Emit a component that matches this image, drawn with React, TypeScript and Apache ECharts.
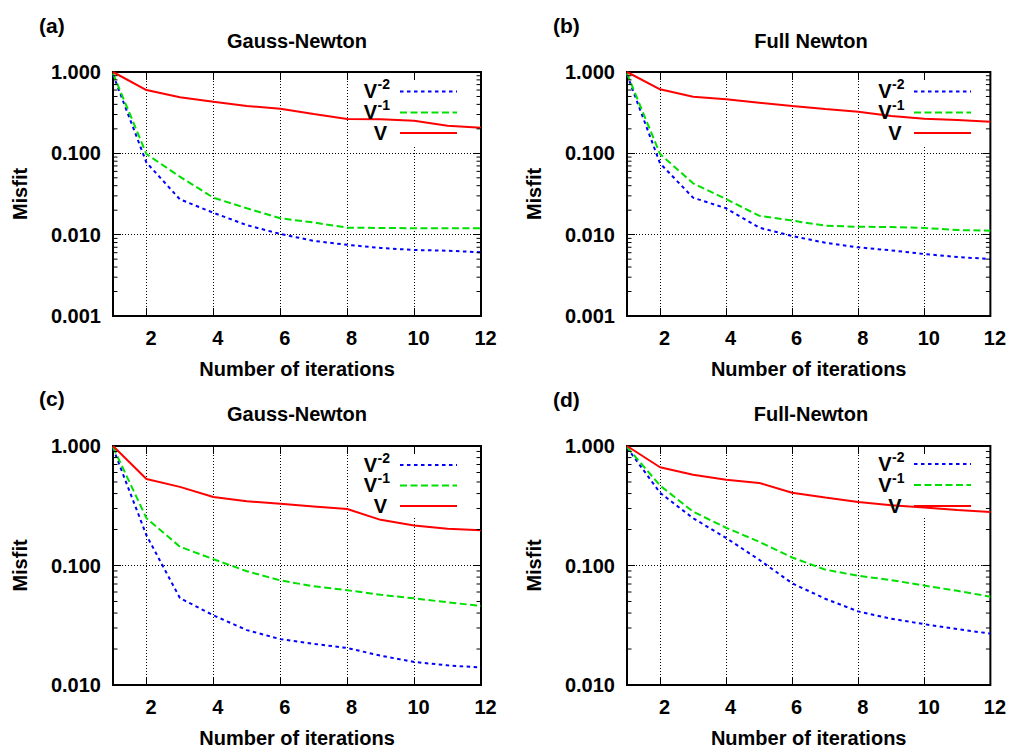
import React, { useEffect, useRef } from 'react';
import * as echarts from 'echarts';

// ---------- data ----------
const ITER = [1, 2, 3, 4, 5, 6, 7, 8, 9, 10, 11, 12];
const X_TICKS = [2, 4, 6, 8, 10, 12];
const MINOR_MULT = [2, 3, 4, 5, 6, 7, 8, 9];
const TOP_DECADES = [0.001, 0.01, 0.1];
const BOTTOM_DECADES = [0.01, 0.1];

// (a) Gauss-Newton
const A_VM2 = [0.93, 0.077, 0.0272, 0.0186, 0.0131, 0.0102, 0.0084, 0.0075, 0.00686, 0.00648, 0.00635, 0.00607];
const A_VM1 = [0.96, 0.098, 0.0516, 0.0285, 0.0211, 0.0159, 0.0141, 0.0122, 0.0121, 0.012, 0.012, 0.012];
const A_V = [1.0, 0.6, 0.489, 0.431, 0.382, 0.354, 0.305, 0.264, 0.262, 0.252, 0.219, 0.207];
// (b) Full Newton
const B_VM2 = [0.93, 0.0754, 0.0285, 0.0211, 0.0122, 0.00963, 0.00796, 0.00698, 0.00641, 0.00578, 0.00531, 0.00502];
const B_VM1 = [0.96, 0.098, 0.0428, 0.0274, 0.0171, 0.0149, 0.0129, 0.0125, 0.0124, 0.0121, 0.0114, 0.0112];
const B_V = [1.0, 0.612, 0.497, 0.461, 0.42, 0.382, 0.351, 0.325, 0.288, 0.267, 0.257, 0.245];
// (c) Gauss-Newton
const C_VM2 = [0.96, 0.179, 0.0534, 0.0383, 0.0288, 0.0242, 0.0221, 0.0204, 0.0176, 0.0156, 0.0146, 0.014];
const C_VM1 = [0.98, 0.249, 0.1436, 0.113, 0.0896, 0.075, 0.067, 0.0621, 0.0569, 0.0531, 0.0492, 0.0459];
const C_V = [1.0, 0.53, 0.455, 0.374, 0.345, 0.328, 0.312, 0.297, 0.241, 0.216, 0.203, 0.197];
// (d) Full-Newton
const D_VM2 = [0.97, 0.406, 0.249, 0.17, 0.1117, 0.071, 0.0527, 0.0413, 0.0359, 0.0323, 0.0294, 0.0269];
const D_VM1 = [0.98, 0.467, 0.282, 0.207, 0.158, 0.1167, 0.0924, 0.082, 0.0755, 0.0679, 0.0614, 0.0548];
const D_V = [1.0, 0.664, 0.574, 0.523, 0.491, 0.406, 0.37, 0.34, 0.32, 0.306, 0.291, 0.28];

const SERIES_NAMES = ['V^-2', 'V^-1', 'V'];
const LEGEND_BASE = ['V', 'V', 'V'];
const LEGEND_SUP = ['-2', '-1', ''];
const PANEL_LABELS = ['(a)', '(b)', '(c)', '(d)'];
const PANEL_TITLES = ['Gauss-Newton', 'Full Newton', 'Gauss-Newton', 'Full-Newton'];
const X_NAME = 'Number of iterations';
const Y_NAME = 'Misfit';

// ---------- styles / layout ----------
const FONT = '"Liberation Sans", Arial, Helvetica, sans-serif';
const STYLES = [
  { color: '#0000ff', dash: [3.5, 3.5], width: 2 },
  { color: '#00e000', dash: [7, 3.5], width: 2 },
  { color: '#ff0000', dash: null as any, width: 2 },
];

const PANELS = [
  { data: [A_VM2, A_VM1, A_V], yMin: 0.001, decades: TOP_DECADES, left: 113, top: 72, width: 368, height: 244, vRight: 377, sampleX: [400, 457], rows: [91.5, 112.5, 133], mask: [352, 81, 110, 65], labelX: 39, labelY: 25, titleY: 41 },
  { data: [B_VM2, B_VM1, B_V], yMin: 0.001, decades: TOP_DECADES, left: 627, top: 72, width: 368, height: 244, vRight: 891.5, sampleX: [914, 971], rows: [91.5, 112.5, 133], mask: [866, 81, 110, 65], labelX: 553, labelY: 25, titleY: 41 },
  { data: [C_VM2, C_VM1, C_V], yMin: 0.01, decades: BOTTOM_DECADES, left: 113, top: 446, width: 368, height: 243, vRight: 377, sampleX: [400, 457], rows: [465, 485.5, 506], mask: [352, 455, 110, 62], labelX: 39, labelY: 398, titleY: 414 },
  { data: [D_VM2, D_VM1, D_V], yMin: 0.01, decades: BOTTOM_DECADES, left: 627, top: 446, width: 368, height: 243, vRight: 891.5, sampleX: [914, 971], rows: [464, 485, 506], mask: [866, 455, 110, 62], labelX: 553, labelY: 399, titleY: 414 },
];

export default function App() {
  const ref = useRef<HTMLDivElement>(null);

  useEffect(() => {
    const chart = echarts.init(ref.current!, null, { renderer: 'svg' });

    const grids: any[] = [];
    const xAxes: any[] = [];
    const yAxes: any[] = [];
    const series: any[] = [];
    const graphics: any[] = [];

    PANELS.forEach((p, i) => {
      grids.push({
        left: p.left, top: p.top, width: p.width, height: p.height,
        show: true, borderColor: '#000', borderWidth: 2, backgroundColor: 'transparent',
      });
      const tickStyle = { color: '#000', width: 1 };
      const gridLine = { show: true, lineStyle: { color: '#000', width: 1, type: [1, 2] } };
      xAxes.push({
        type: 'value', gridIndex: i, position: 'bottom', min: 1, max: 12,
        name: X_NAME, nameLocation: 'middle', nameGap: 43,
        nameTextStyle: { fontFamily: FONT, fontWeight: 'bold', fontSize: 20, color: '#000' },
        axisLine: { show: false },
        axisTick: { show: true, inside: true, length: 8, lineStyle: tickStyle, customValues: X_TICKS },
        axisLabel: {
          customValues: X_TICKS, margin: 12, padding: [0, 0, 0, 9],
          fontFamily: FONT, fontWeight: 'bold', fontSize: 20, color: '#000',
        },
        splitLine: gridLine,
      });
      xAxes.push({
        type: 'value', gridIndex: i, position: 'top', min: 1, max: 12,
        axisLine: { show: false },
        axisTick: { show: true, inside: true, length: 8, lineStyle: tickStyle, customValues: X_TICKS },
        axisLabel: { show: false },
        splitLine: { show: false },
      });
      yAxes.push({
        type: 'log', logBase: 10, gridIndex: i, position: 'left', min: p.yMin, max: 1,
        name: Y_NAME, nameLocation: 'middle', nameGap: 83, nameRotate: 90,
        nameTextStyle: { fontFamily: FONT, fontWeight: 'bold', fontSize: 20, color: '#000' },
        axisLine: { show: false },
        axisTick: { show: true, inside: true, length: 8, lineStyle: tickStyle },
        axisLabel: {
          margin: 12, fontFamily: FONT, fontWeight: 'bold', fontSize: 20, color: '#000',
          formatter: (v: number) => Number(v).toFixed(3),
        },
        splitLine: gridLine,
      });
      yAxes.push({
        type: 'log', logBase: 10, gridIndex: i, position: 'right', min: p.yMin, max: 1,
        axisLine: { show: false },
        axisTick: { show: true, inside: true, length: 8, lineStyle: tickStyle },
        axisLabel: { show: false },
        splitLine: { show: false },
      });

      p.data.forEach((arr, k) => {
        const st = STYLES[k];
        series.push({
          type: 'line', name: SERIES_NAMES[k], xAxisIndex: 2 * i, yAxisIndex: 2 * i,
          data: ITER.map((x, j) => [x, arr[j]]),
          symbol: 'none', showSymbol: false, silent: true, z: 3,
          lineStyle: { color: st.color, width: st.width, type: st.dash || 'solid' },
          itemStyle: { color: st.color },
        });
      });

      const minor = p.decades.flatMap((d) => MINOR_MULT.map((m) => Number((m * d).toPrecision(3))));
      series.push({
        type: 'custom', xAxisIndex: 2 * i, yAxisIndex: 2 * i, silent: true, z: 4,
        data: minor.map((v) => [1, v]),
        renderItem: (_params: any, api: any) => {
          const v = api.value(1);
          const l = api.coord([1, v]);
          const r = api.coord([12, v]);
          return {
            type: 'group',
            children: [
              { type: 'line', shape: { x1: l[0], y1: l[1], x2: l[0] + 4.5, y2: l[1] }, style: { stroke: '#000', lineWidth: 1 } },
              { type: 'line', shape: { x1: r[0] - 4.5, y1: r[1], x2: r[0], y2: r[1] }, style: { stroke: '#000', lineWidth: 1 } },
            ],
          };
        },
      });

      // key area: grid lines are not drawn under the key (gnuplot behaviour)
      graphics.push({
        type: 'rect', z: 1, silent: true,
        shape: { x: p.mask[0], y: p.mask[1], width: p.mask[2], height: p.mask[3] },
        style: { fill: '#fff' },
      });
      // key entries
      STYLES.forEach((st, k) => {
        const y = p.rows[k];
        const hasSup = LEGEND_SUP[k] !== '';
        const vx = hasSup ? p.vRight : p.vRight + 10;
        graphics.push({
          type: 'text', x: vx, y: y - 0.5, z: 5, silent: true,
          style: { text: LEGEND_BASE[k], font: `bold 20px ${FONT}`, fill: '#000', align: 'right', verticalAlign: 'middle' },
        });
        if (hasSup) {
          graphics.push({
            type: 'text', x: p.vRight + 0.5, y: y - 7.5, z: 5, silent: true,
            style: { text: LEGEND_SUP[k], font: `bold 14px ${FONT}`, fill: '#000', align: 'left', verticalAlign: 'middle' },
          });
        }
        graphics.push({
          type: 'line', z: 5, silent: true,
          shape: { x1: p.sampleX[0], y1: y, x2: p.sampleX[1], y2: y },
          style: { stroke: st.color, lineWidth: st.width, lineDash: st.dash || undefined },
        });
      });
      graphics.push({
        type: 'text', x: p.labelX, y: p.labelY, silent: true,
        style: { text: PANEL_LABELS[i], font: `bold 21px ${FONT}`, fill: '#000', align: 'left', verticalAlign: 'middle' },
      });
      graphics.push({
        type: 'text', x: p.left + p.width / 2, y: p.titleY, silent: true,
        style: { text: PANEL_TITLES[i], font: `bold 20px ${FONT}`, fill: '#000', align: 'center', verticalAlign: 'middle' },
      });
    });

    chart.setOption({
      animation: false,
      backgroundColor: '#fff',
      grid: grids,
      xAxis: xAxes,
      yAxis: yAxes,
      series,
      graphic: { elements: graphics },
    });

    return () => chart.dispose();
  }, []);

  return (
    <div
      ref={ref}
      style={{ position: 'fixed', left: 0, top: 0, width: 1009, height: 749, background: '#fff' }}
    />
  );
}
